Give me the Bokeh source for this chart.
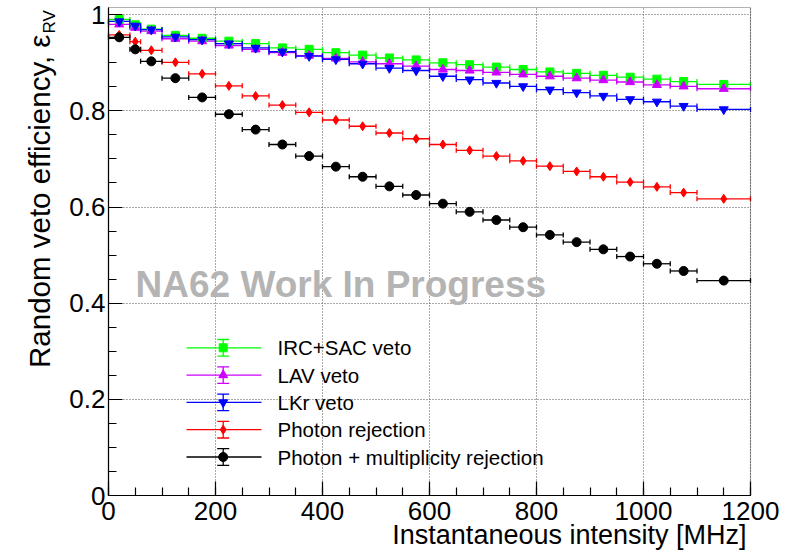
import math
from bokeh.plotting import figure
from bokeh.models import (ColumnDataSource, Range1d, SingleIntervalTicker, Whisker, TeeHead,
                          Label, CustomJSTickFormatter, BoxAnnotation)
from bokeh.core.properties import value
from bokeh.embed import file_html
from bokeh.resources import INLINE

# ---------------- data ----------------
x_center = [20, 50, 80, 125, 175, 225, 275, 325, 375, 425, 475, 525, 575,
            625, 675, 725, 775, 825, 875, 925, 975, 1025, 1075, 1150]
x_low = [0, 40, 60, 100, 150, 200, 250, 300, 350, 400, 450, 500, 550,
         600, 650, 700, 750, 800, 850, 900, 950, 1000, 1050, 1100]
x_high = [40, 60, 100, 150, 200, 250, 300, 350, 400, 450, 500, 550, 600,
          650, 700, 750, 800, 850, 900, 950, 1000, 1050, 1100, 1200]

irc_sac_veto = [0.990, 0.979, 0.970, 0.957, 0.951, 0.945, 0.940, 0.931, 0.928, 0.921, 0.916, 0.910,
                0.906, 0.900, 0.896, 0.891, 0.886, 0.881, 0.878, 0.874, 0.870, 0.866, 0.861, 0.855]
lav_veto = [0.980, 0.973, 0.966, 0.950, 0.945, 0.936, 0.928, 0.921, 0.915, 0.909, 0.902, 0.898,
            0.893, 0.886, 0.884, 0.880, 0.876, 0.872, 0.868, 0.864, 0.860, 0.854, 0.851, 0.846]
lkr_veto = [0.986, 0.977, 0.969, 0.954, 0.948, 0.940, 0.931, 0.923, 0.914, 0.907, 0.898, 0.889,
            0.884, 0.872, 0.865, 0.858, 0.851, 0.844, 0.838, 0.831, 0.824, 0.819, 0.810, 0.803]
photon_rejection = [0.958, 0.944, 0.926, 0.901, 0.877, 0.852, 0.831, 0.812, 0.797, 0.781, 0.768, 0.754,
                    0.742, 0.730, 0.718, 0.706, 0.696, 0.685, 0.674, 0.663, 0.652, 0.642, 0.630, 0.617]
photon_mult_rejection = [0.953, 0.928, 0.903, 0.868, 0.828, 0.793, 0.761, 0.730, 0.706, 0.684, 0.663, 0.643,
                         0.625, 0.607, 0.590, 0.573, 0.558, 0.542, 0.527, 0.512, 0.497, 0.482, 0.467, 0.447]

series_names = ["IRC+SAC veto", "LAV veto", "LKr veto", "Photon rejection",
                "Photon + multiplicity rejection"]
series_values = [irc_sac_veto, lav_veto, lkr_veto, photon_rejection, photon_mult_rejection]

X_MIN, X_MAX = 0, 1200
Y_MIN, Y_MAX = 0, 1.015

# ---------------- styles / layout ----------------
series_colors = ["#00ff00", "#cc00ff", "#0000ff", "#ff0000", "#000000"]
series_markers = ["square", "triangle", "inverted_triangle", "diamond", "circle"]
series_sizes = [8, 9, 9, 9, 9]
FONT = "Liberation Sans"
W, H = 810, 553
FRAME_L, FRAME_R, FRAME_B, FRAME_T = 108, 750, 495, 7   # canvas pixels of the ROOT frame

# Whole canvas is the Bokeh frame; the axes sit at fixed data locations
ppx = (FRAME_R - FRAME_L) / (X_MAX - X_MIN)
ppy = (FRAME_B - FRAME_T) / (Y_MAX - Y_MIN)
x_view = Range1d(X_MIN - FRAME_L / ppx, X_MAX + (W - FRAME_R) / ppx)
y_view = Range1d(Y_MIN - (H - FRAME_B) / ppy, Y_MAX + FRAME_T / ppy)

p = figure(width=W, height=H, x_range=x_view, y_range=y_view,
           output_backend="svg", toolbar_location=None,
           min_border_left=0, min_border_right=0, min_border_top=0, min_border_bottom=0,
           background_fill_color="white", border_fill_color="white")
p.outline_line_color = None

# canvas-pixel helper ranges for annotation placement
p.extra_x_ranges = {"px": Range1d(0, W)}
p.extra_y_ranges = {"px": Range1d(H, 0)}

p.xaxis.ticker = SingleIntervalTicker(interval=200, num_minor_ticks=4)
p.yaxis.ticker = SingleIntervalTicker(interval=0.2, num_minor_ticks=4)
p.yaxis.formatter = CustomJSTickFormatter(code="return String(Math.round(tick*10)/10)")
p.xaxis.fixed_location = Y_MIN
p.yaxis.fixed_location = X_MIN
p.xaxis.bounds = (X_MIN, X_MAX)
p.yaxis.bounds = (Y_MIN, Y_MAX)

for ax in (p.xaxis[0], p.yaxis[0]):
    ax.axis_line_color = "black"
    ax.axis_line_width = 1.2
    ax.major_tick_in = 14
    ax.major_tick_out = 0
    ax.minor_tick_in = 8
    ax.minor_tick_out = 0
    ax.major_tick_line_color = "black"
    ax.minor_tick_line_color = "black"
    ax.major_tick_line_width = 1.2
    ax.minor_tick_line_width = 1.2
    ax.major_label_text_font = FONT
    ax.major_label_text_font_size = "26px"
    ax.major_label_text_color = "black"
p.yaxis.major_label_standoff = 3
p.xaxis.major_label_standoff = 6

grid_ok = "cross_bounds" in p.xgrid[0].properties()
for g, cb in ((p.xgrid[0], (Y_MIN, Y_MAX)), (p.ygrid[0], (X_MIN, X_MAX))):
    g.grid_line_color = "#555555"
    g.grid_line_dash = "1 2"
    g.grid_line_width = 1
    if grid_ok:
        g.cross_bounds = cb
    else:
        g.visible = False

if not grid_ok:
    gx = list(range(200, X_MAX, 200))
    gy = [0.2, 0.4, 0.6, 0.8, 1.0]
    p.segment(x0=gx, y0=[Y_MIN] * len(gx), x1=gx, y1=[Y_MAX] * len(gx),
              line_color="#555555", line_dash="1 2", line_width=1, level="underlay")
    p.segment(x0=[X_MIN] * len(gy), y0=gy, x1=[X_MAX] * len(gy), y1=gy,
              line_color="#555555", line_dash="1 2", line_width=1, level="underlay")

# ROOT frame box
p.add_layout(BoxAnnotation(left=X_MIN, right=X_MAX, bottom=Y_MIN, top=Y_MAX,
                           fill_alpha=0, line_color="black", line_width=1.2))

# ---------------- data series ----------------
for vals, col, mk, sz in zip(series_values, series_colors, series_markers, series_sizes):
    src = ColumnDataSource(dict(x=x_center, y=vals, lo=x_low, hi=x_high))
    w = Whisker(source=src, base="y", lower="lo", upper="hi", dimension="width",
                line_color=col, line_width=1.3, level="underlay",
                lower_head=TeeHead(size=5, line_color=col, line_width=1.3),
                upper_head=TeeHead(size=5, line_color=col, line_width=1.3))
    p.add_layout(w)
    p.scatter(x="x", y="y", source=src, marker=mk, size=sz,
              fill_color=col, line_color=col, line_width=1)

# ---------------- legend (drawn ROOT style, canvas pixels) ----------------
leg_y0, leg_dy = 347.3, 27.3
leg_rows = [leg_y0 + i * leg_dy for i in range(len(series_names))]
n = len(series_names)
leg_src = ColumnDataSource(dict(
    y=leg_rows, name=series_names, color=series_colors, marker=series_markers,
    size=series_sizes,
    x0=[186] * n, x1=[261] * n, xm=[222.7] * n,
    yt=[r - 8.3 for r in leg_rows], yb=[r + 8.3 for r in leg_rows],
    cl=[216.7] * n, cr=[228.7] * n, xt=[277] * n))
for a, b, c, d in (("x0", "y", "x1", "y"), ("xm", "yt", "xm", "yb"),
                   ("cl", "yt", "cr", "yt"), ("cl", "yb", "cr", "yb")):
    p.segment(x0=a, y0=b, x1=c, y1=d, source=leg_src, line_color="color",
              line_width=1.3, x_range_name="px", y_range_name="px")
p.scatter(x="xm", y="y", source=leg_src, marker="marker", size="size",
          fill_color="color", line_color="color", x_range_name="px", y_range_name="px")
p.text(x="xt", y="y", text="name", source=leg_src, text_font=value(FONT),
       text_font_size="20.5px", text_baseline="middle", text_align="left",
       text_color="black", x_range_name="px", y_range_name="px")

# ---------------- titles & watermark (positions = cap centres, canvas px) ----------------
p.add_layout(Label(x=746, y=534, x_range_name="px", y_range_name="px",
                   text="Instantaneous intensity [MHz]", text_align="right",
                   text_baseline="middle", text_font=FONT, text_font_size="27px",
                   text_color="black"))
p.add_layout(Label(x=39, y=34, x_range_name="px", y_range_name="px", angle=math.pi / 2,
                   text="Random veto efficiency, ε", text_align="right",
                   text_baseline="middle", text_font=FONT, text_font_size="29.5px",
                   text_color="black"))
p.add_layout(Label(x=49, y=33, x_range_name="px", y_range_name="px", angle=math.pi / 2,
                   text="RV", text_align="left", text_baseline="middle",
                   text_font=FONT, text_font_size="17px", text_color="black"))
p.add_layout(Label(x=135, y=283.5, x_range_name="px", y_range_name="px",
                   text="NA62 Work In Progress", text_align="left",
                   text_baseline="middle", text_font=FONT, text_font_size="37px",
                   text_font_style="bold", text_color="#b4b4b4"))

open("out.html", "w").write(file_html(p, INLINE))
